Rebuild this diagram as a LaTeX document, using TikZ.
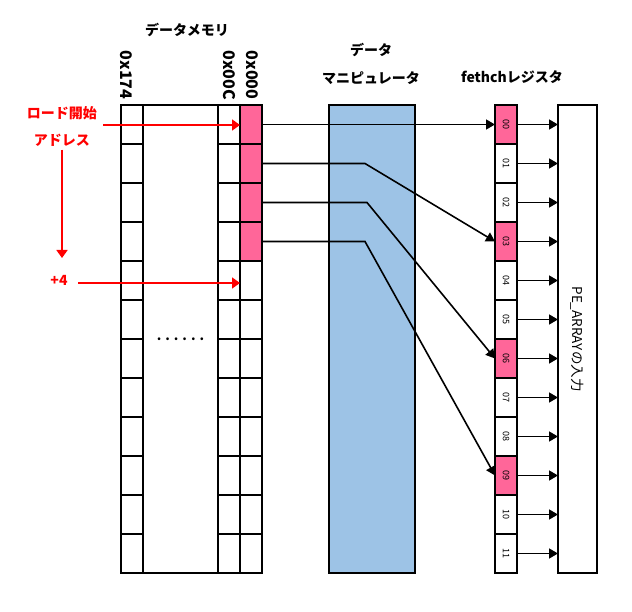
\documentclass[tikz,border=0pt]{standalone}
\usepackage{fontspec}
\setmainfont{Noto Sans CJK JP}
\usetikzlibrary{arrows.meta}
\definecolor{cellpink}{RGB}{255,102,153}
\definecolor{manipblue}{RGB}{157,195,230}
\definecolor{loadred}{RGB}{255,0,0}

\begin{document}
\begin{tikzpicture}[
        %We set the units and define some styles
        x=1pt, y=-1pt,
        cell/.style={draw, line width=1.8pt, minimum width=22pt, minimum height=39pt, inner sep=0pt, outer sep=0pt},
        tall box/.style={draw, line width=1.8pt, minimum height=468pt, inner sep=0pt, outer sep=0pt},
        data line/.style={line width=1.6pt, -{Triangle[length=9pt,width=10pt]}},
        red line/.style={line width=1.8pt, draw=loadred, -{Triangle[length=8pt,width=11pt]}},
        heading/.style={font=\bfseries\fontsize{14}{16}\selectfont},
        red heading/.style={heading, text=loadred},
        addr label/.style={font=\bfseries\fontsize{16}{18}\selectfont, rotate=-90},
        reg label/.style={font=\fontsize{9}{9}\selectfont},
        every node/.style={color=black,}
     ]
    \useasboundingbox (0,0) rectangle (632,612);

    % Titles
    \node[heading] (memtitle) at (187,30) {データメモリ};
    \node[heading] (maniptitle) at (371,50) {データ};
    \node[heading] (maniptitlex) at (371,78) {マニピュレータ};
    \node[heading] (regtitle) at (512,77) {fethchレジスタ};
    \node[addr label] (a174) at (126,75) {0x174};
    \node[addr label] (a00c) at (229,75) {0x00C};
    \node[addr label] (a000) at (252,75) {0x000};

    % Data memory, manipulator and PE input
    \node[tall box, minimum width=75pt] (mwide) at (180.5,339) {\fontsize{13}{13}\selectfont\bfseries . . . . . .};
    \node[tall box, minimum width=86pt, fill=manipblue] (manip) at (372,339) {};
    \node[tall box, minimum width=39pt] (pe) at (577.5,339)
        {\rotatebox{-90}{\fontsize{13.5}{14}\selectfont PE\_ARRAYの入力}};

    % Memory cells and fetch register
    \foreach \r in {0,...,11} {
        \pgfmathtruncatemacro{\m}{mod(\r,3)}
        \ifnum\m=0 \def\regfill{cellpink}\else\def\regfill{white}\fi
        \ifnum\r<4 \def\memfill{cellpink}\else\def\memfill{white}\fi
        \node[cell] (ma\r) at (132,124.5+39*\r) {};
        \node[cell] (mc\r) at (229,124.5+39*\r) {};
        \node[cell, fill=\memfill] (md\r) at (251,124.5+39*\r) {};
        \node[cell, fill=\regfill, reg label] (rg\r) at (506,124.5+39*\r)
            {\rotatebox{-90}{\ifnum\r<10 0\fi\r}};
        \draw[data line] (rg\r.east) -- (rg\r.east -| pe.west);
    }

    % Bends of the data lines
    \coordinate (bend1) at (365,163.5);
    \coordinate (bend2) at (367,202.5);
    \coordinate (bend3) at (365,241.5);
    \draw[data line] (md0.east) -- (rg0.west);
    \draw[data line] (md1.east) -- (bend1) -- (rg3.west);
    \draw[data line] (md2.east) -- (bend2) -- (rg6.west);
    \draw[data line] (md3.east) -- (bend3) -- (rg9.west);

    % Load start address
    \node[red heading] (load) at (62,113) {ロード開始};
    \node[red heading] (addr) at (62,140) {アドレス};
    \node[red heading] (plus) at (59,280) {+4};
    \coordinate (loadstart) at (103,125);
    \coordinate (stepend) at (62,258);
    \coordinate (plusstart) at (78,283);
    \draw[red line] (loadstart) -- (loadstart -| md0.west);
    \draw[red line] (addr.south) -- (stepend);
    \draw[red line] (plusstart) -- (plusstart -| md5.west);
\end{tikzpicture}
\end{document}
